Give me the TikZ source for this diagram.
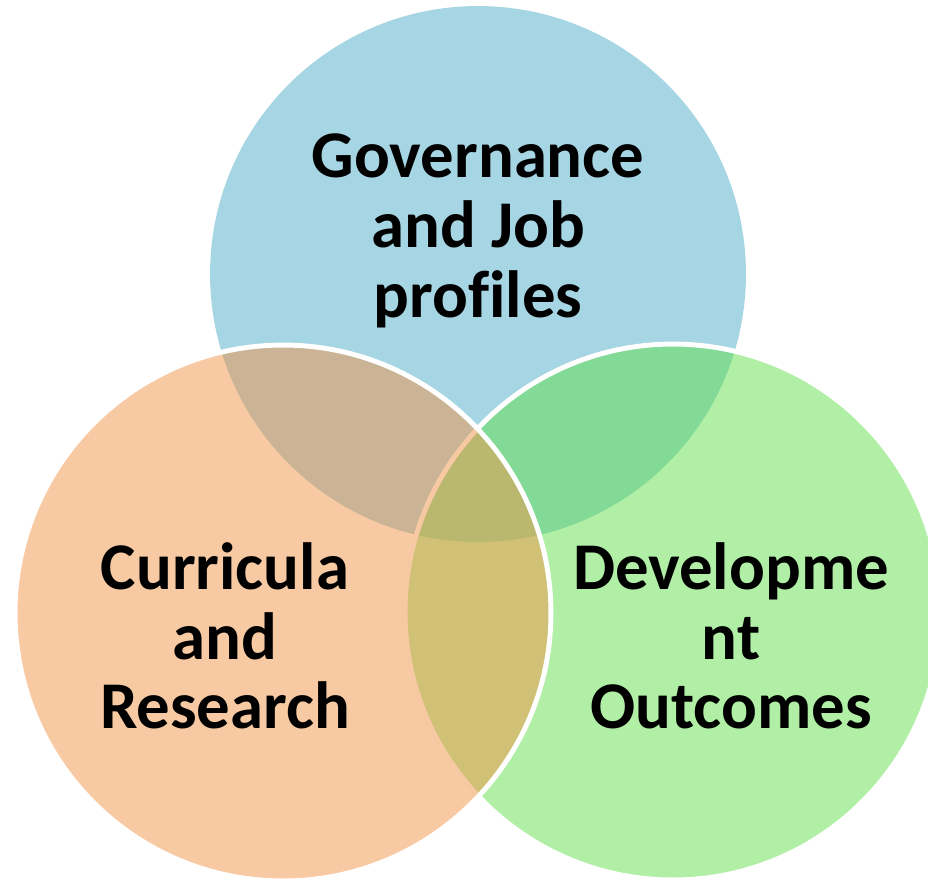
\documentclass[tikz,border=0pt]{standalone}
\usepackage{fontspec}
\setmainfont{Carlito}[Ligatures=NoCommon]
\definecolor{govblue}{RGB}{77,171,199}
\definecolor{curorange}{RGB}{241,149,73}
\definecolor{devgreen}{RGB}{97,223,75}

\begin{document}
\begin{tikzpicture}
      [x=0.02cm, y=-0.02cm,
      set/.style={circle, minimum size=10.72cm, inner sep=0pt, fill opacity=0.5},
      rim/.style={draw=white, line width=2.8pt},
      setname/.style={align=center, font=\fontsize{38}{39.7}\selectfont\bfseries},
      ]
      \clip (0,0) rectangle (928,879);
      \node[set, fill=govblue] (G) at (478,274) {};
      \node[set, rim, fill=devgreen] (D) at (673,612) {};
      \node[set, rim, fill=curorange] (C) at (283,613) {};

      \node[setname] (GT) at (478,231) {Governance\\and Job\\profiles};
      \node[setname] (CT) at (225,636) {Curricula\\and\\Research};
      \node[setname] (DT) at (731,636) {Developme\\nt\\Outcomes};
    \end{tikzpicture}
\end{document}
